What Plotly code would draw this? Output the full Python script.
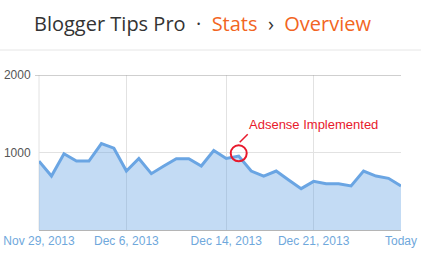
import plotly.graph_objects as go
import pandas as pd

dates = pd.date_range("2013-11-29", "2013-12-28", freq="D")
pageviews = [889, 696, 983, 889, 889, 1115, 1056, 761, 923, 727,
             825, 919, 919, 825, 1026, 923, 953, 761, 696, 761,
             645, 534, 628, 598, 598, 568, 761, 696, 667, 568]
tick_dates = ["2013-11-29", "2013-12-06", "2013-12-14", "2013-12-21", "2013-12-28"]
tick_labels = ["Nov 29, 2013", "Dec 6, 2013", "Dec 14, 2013", "Dec 21, 2013", "Today"]
y_ticks = [1000, 2000]
annotation_date = "2013-12-15"
annotation_value = 990
annotation_text = "Adsense Implemented"

fig = go.Figure()
fig.add_trace(go.Scatter(
    x=dates, y=pageviews, mode="lines", fill="tozeroy",
    line=dict(color="#6aa5e3", width=3),
    fillcolor="rgba(106,165,227,0.4)",
    hoverinfo="skip",
))

L, R, T, B = 39, 20, 75, 28
W, H = 421, 258
pw, ph = W - L - R, H - T - B

fig.update_layout(
    width=W, height=H,
    margin=dict(l=L, r=R, t=T, b=B, pad=0, autoexpand=False),
    paper_bgcolor="white", plot_bgcolor="white",
    showlegend=False,
    xaxis=dict(
        type="date", automargin=False,
        range=[dates[0], dates[-1]],
        tickvals=tick_dates, ticktext=tick_labels,
        showgrid=True, gridcolor="#e2e2e2", gridwidth=1,
        showline=True, linecolor="#b5b5b5", linewidth=1,
        ticks="", tickfont=dict(family="Arial", size=12, color="#6fa8dc"),
        zeroline=False, fixedrange=True,
    ),
    yaxis=dict(
        range=[0, 2000], automargin=False,
        tickvals=y_ticks, ticktext=[str(v) for v in y_ticks],
        showgrid=True, gridcolor="#e2e2e2", gridwidth=1,
        showline=False, zeroline=False,
        ticks="outside", ticklen=5, tickcolor="rgba(0,0,0,0)",
        tickfont=dict(family="Arial", size=12, color="#555555"),
        fixedrange=True,
    ),
    font=dict(family="Arial"),
)

# top gridline (2000) darker, with a short tick to the left
fig.add_shape(type="line", xref="paper", yref="y", x0=-4 / pw, x1=1, y0=2000, y1=2000,
              line=dict(color="#a0a0a0", width=1))
# left vertical gridline
fig.add_shape(type="line", xref="paper", yref="paper", x0=0, x1=0, y0=0, y1=1,
              line=dict(color="#e2e2e2", width=1), layer="below")
# header separator
sep_y = (H - B - 50) / ph
fig.add_shape(type="line", xref="paper", yref="paper",
              x0=-L / pw, x1=1 + R / pw, y0=sep_y, y1=sep_y,
              line=dict(color="#e6e6e6", width=1))

# title
orange = "#f26522"
fig.add_annotation(
    xref="paper", yref="paper", x=-(L - 32) / pw, y=(H - B - 23) / ph,
    xanchor="left", yanchor="middle", showarrow=False,
    text=("Blogger Tips Pro&nbsp;&nbsp;·&nbsp;&nbsp;"
          f"<span style='color:{orange}'>Stats</span>&nbsp;&nbsp;›&nbsp;&nbsp;"
          f"<span style='color:{orange}'>Overview</span>"),
    font=dict(family="Open Sans", size=20, color="#333333"),
)

# annotation: circle, pointer, text
red = "#e8192c"
fig.add_shape(type="circle", xref="x", yref="y",
              xsizemode="pixel", ysizemode="pixel",
              xanchor=annotation_date, yanchor=annotation_value,
              x0=-8, x1=8, y0=-8, y1=8,
              line=dict(color=red, width=2))
fig.add_shape(type="line", xref="x", yref="y",
              xsizemode="pixel", ysizemode="pixel",
              xanchor=annotation_date, yanchor=annotation_value,
              x0=1, x1=9, y0=11, y1=19,
              line=dict(color=red, width=1.5))
fig.add_annotation(xref="x", yref="y", x=annotation_date, y=annotation_value,
                   xanchor="left", yanchor="middle", showarrow=False,
                   xshift=8, yshift=29, text=annotation_text,
                   font=dict(family="Liberation Sans", size=13, color=red))

fig.write_html("out.html", config=dict(displayModeBar=False))
